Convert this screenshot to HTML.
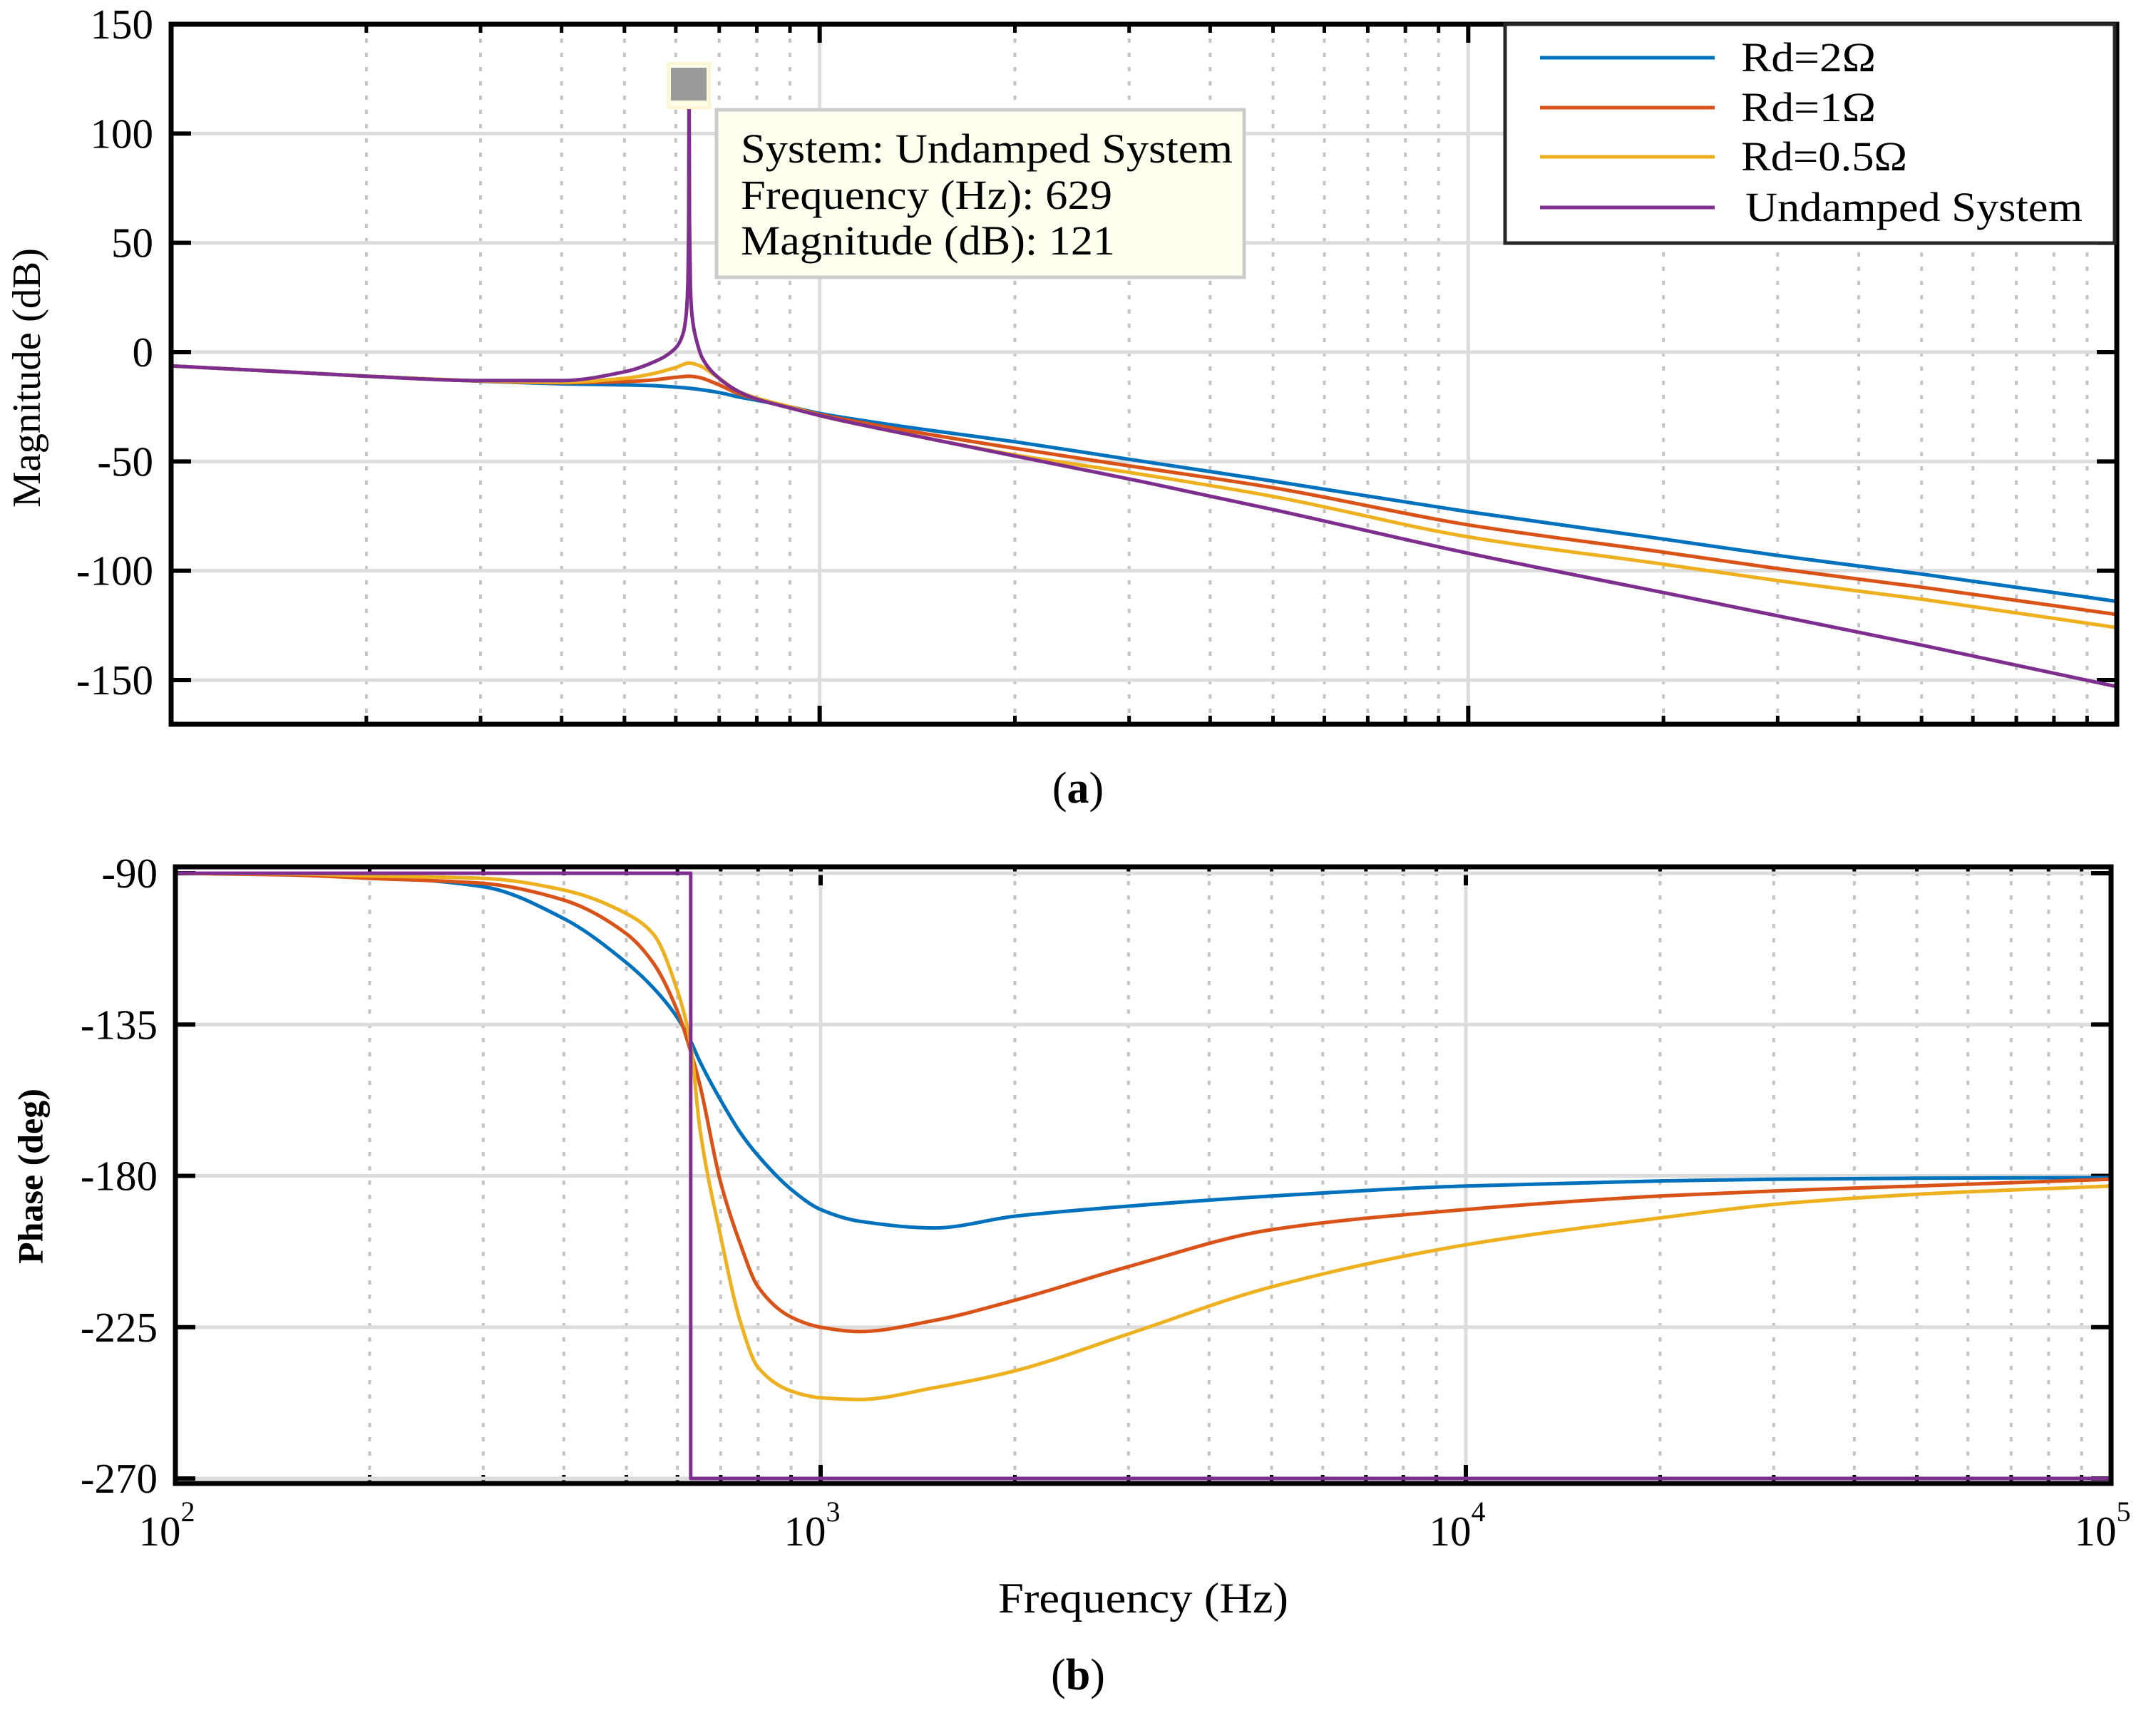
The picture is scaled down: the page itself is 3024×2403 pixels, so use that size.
<!DOCTYPE html>
<html><head><meta charset="utf-8"><style>
html,body{margin:0;padding:0;background:#fff;}
svg{display:block;font-family:"Liberation Serif",serif;}
</style></head><body>
<svg id="fig" width="3024" height="2403" viewBox="0 0 3024 2403" xmlns="http://www.w3.org/2000/svg">
<defs>
<clipPath id="clipA"><rect x="240" y="34" width="2729" height="982"/></clipPath>
<clipPath id="clipB"><rect x="246" y="1216" width="2715" height="865"/></clipPath>
</defs>
<g id="gA"></g>
<g id="gB"></g>
<text x="43" y="530" font-size="56" text-anchor="middle" dominant-baseline="middle" textLength="364" lengthAdjust="spacingAndGlyphs" transform="rotate(-90 43 530)">Magnitude (dB)</text>
<text x="48" y="1650" font-size="50" font-weight="bold" text-anchor="middle" dominant-baseline="middle" transform="rotate(-90 48 1650)">Phase (deg)</text>
<text x="1400" y="2262" font-size="60" textLength="407" lengthAdjust="spacingAndGlyphs">Frequency  (Hz)</text>
<text x="1512" y="1126" font-size="62" text-anchor="middle">(<tspan font-weight="bold">a</tspan>)</text>
<text x="1512" y="2370" font-size="62" text-anchor="middle">(<tspan font-weight="bold">b</tspan>)</text>
</svg>
<script>
const freqs=[100,150,200,300,400,500,550,600,629,650,700,750,800,900,1000,1150,1500,2000,3000,5000,10000,20000,30000,50000,100000];
const magBlue=[-6.3,-9,-11,-13.3,-14.5,-15,-15.3,-16,-16.5,-17,-18.5,-20.5,-22,-25,-28,-31,-36,-41,-49,-59,-73,-85.5,-93,-101.5,-114];
const magRed=[-6.3,-9,-11,-13.2,-14,-13.5,-12.8,-11.5,-11,-11.5,-15,-19,-21.5,-25,-28.5,-32,-38,-44,-52,-62,-79,-91.5,-99,-107.5,-120];
const magYellow=[-6.3,-9,-11,-13.1,-13.8,-12,-10,-7,-5,-6,-12,-18,-21,-25,-29,-33,-40,-47,-55,-66,-84.5,-97,-104.5,-113,-126];
const freqsUndamped=[100,150,200,300,400,500,550,600,615,622,626,628,629,630,632,636,645,660,700,750,800,900,1000,1500,2000,3000,5000,10000,20000,50000,100000];
const magUndamped=[-6.3,-9,-11,-13,-13,-9,-5,2,8,16,30,60,121,60,30,16,6,-3,-12,-18,-21.5,-25.5,-29,-40,-47.5,-58,-72,-92,-110,-134,-153];
const phBlue=[-90,-90.3,-91,-94,-103.5,-116.6,-124,-133,-140,-146,-157.5,-167,-174,-184,-190,-193.5,-195.5,-192,-189,-186,-183,-181.5,-181,-180.7,-180.5];
const phRed=[-90,-90.5,-91.5,-93,-98,-108,-116.6,-131,-143,-153,-182,-200,-213,-222,-225,-226.3,-223,-217,-207,-196,-190,-186,-184.5,-183,-181];
const phYellow=[-90,-90.2,-90.8,-91.5,-95,-102,-108,-125,-141,-166,-198,-223,-237,-244,-246,-246.5,-243,-238,-227,-213,-200.5,-192.5,-188.5,-185.5,-183];
const phFreqUndamped=[100,629,629,100000];
const phUndamped=[-90,-90,-270,-270];
const magTicks=[150,100,50,0,-50,-100,-150];
const phTicks=[-90,-135,-180,-225,-270];
const decades=[2,3,4,5];

const NS="http://www.w3.org/2000/svg";
function mk(tag,attrs,parent){const e=document.createElementNS(NS,tag);for(const k in attrs)e.setAttribute(k,attrs[k]);parent.appendChild(e);return e;}
const colors={blue:"#0072BD",red:"#D95319",yellow:"#EDB120",purple:"#7E2F8E"};

function drawAxes(g,L,R,T,B,xs,ys,ticks,labels){
  for(let d=2;d<5;d++){for(let m=2;m<=9;m++){const x=xs(m*Math.pow(10,d));
    const l=mk('line',{x1:x,x2:x,y1:T,y2:B,stroke:'#c4c4c4','stroke-width':4,'stroke-dasharray':'6 14'},g);
    
    const t1=mk('line',{x1:x,x2:x,y1:B,y2:B-12,stroke:'#000','stroke-width':5},g);
    
    const t2=mk('line',{x1:x,x2:x,y1:T,y2:T+12,stroke:'#000','stroke-width':5},g);
    }}
  decades.forEach(d=>{const x=xs(Math.pow(10,d));
    const l=mk('line',{x1:x,x2:x,y1:T,y2:B,stroke:'#dcdcdc','stroke-width':5},g);
    
    const t1=mk('line',{x1:x,x2:x,y1:B,y2:B-26,stroke:'#000','stroke-width':6},g);
    
    const t2=mk('line',{x1:x,x2:x,y1:T,y2:T+26,stroke:'#000','stroke-width':6},g);
    
    if(labels){const t=mk('text',{x:xs(Math.pow(10,d))-12,y:2168,'font-size':59,'text-anchor':'middle'},g);
      
      t.textContent='10';const s=mk('tspan',{dy:-34,'font-size':40},t);s.textContent=String(d);}
  });
  ticks.forEach(v=>{const y=ys(v);
    const l=mk('line',{x1:L,x2:R,y1:y,y2:y,stroke:'#dcdcdc','stroke-width':5},g);
    
    const t1=mk('line',{x1:L,x2:L+28,y1:y,y2:y,stroke:'#000','stroke-width':6},g);
    
    const t2=mk('line',{x1:R-28,x2:R,y1:y,y2:y,stroke:'#000','stroke-width':6},g);
    
    const t=mk('text',{x:L-25,y:y+20,'font-size':59,'text-anchor':'end'},g);
    
    t.textContent=String(v);
  });
}
// monotone cubic (Fritsch-Carlson) in pixel space
function monoPath(P){
  const n=P.length;if(n<3)return P.map((p,i)=>(i?'L':'M')+p[0].toFixed(1)+','+p[1].toFixed(1)).join(' ');
  const dx=[],dy=[],m=[];
  for(let i=0;i<n-1;i++){dx.push(P[i+1][0]-P[i][0]);dy.push(P[i+1][1]-P[i][1]);m.push(dx[i]===0?0:dy[i]/dx[i]);}
  const t=[m[0]];
  for(let i=1;i<n-1;i++){if(m[i-1]*m[i]<=0)t.push(0);else{const w1=2*dx[i]+dx[i-1],w2=dx[i]+2*dx[i-1];t.push((w1+w2)/(w1/m[i-1]+w2/m[i]));}}
  t.push(m[n-2]);
  let d='M'+P[0][0].toFixed(1)+','+P[0][1].toFixed(1);
  for(let i=0;i<n-1;i++){const h=dx[i]/3;
    d+=' C'+(P[i][0]+h).toFixed(1)+','+(P[i][1]+t[i]*h).toFixed(1)+' '+(P[i+1][0]-h).toFixed(1)+','+(P[i+1][1]-t[i+1]*h).toFixed(1)+' '+P[i+1][0].toFixed(1)+','+P[i+1][1].toFixed(1);}
  return d;
}
function series(g,fx,vy,xs,ys,color,clip,name,smooth){
  const P=fx.map((f,i)=>[xs(f),ys(vy[i])]);
  const d=smooth?monoPath(P):P.map((p,i)=>(i?'L':'M')+p[0].toFixed(1)+','+p[1].toFixed(1)).join(' ');
  const p=mk('path',{d:d,fill:'none',stroke:color,'stroke-width':5,'stroke-linejoin':'round','clip-path':'url(#'+clip+')'},g);
  
}
// ---- Magnitude plot
const gA=document.getElementById('gA');
const AL=240,AR=2969,AT=34,AB=1016;
const xA=f=>AL+(Math.log10(f)-2)*(AR-AL)/3;
const yA=v=>34+(150-v)*(954-34)/300;
drawAxes(gA,AL,AR,AT,AB,xA,yA,magTicks,false);
series(gA,freqs,magBlue,xA,yA,colors.blue,'clipA','magnitude-line-rd-2',true);
series(gA,freqs,magRed,xA,yA,colors.red,'clipA','magnitude-line-rd-1',true);
series(gA,freqs,magYellow,xA,yA,colors.yellow,'clipA','magnitude-line-rd-0-5',true);
series(gA,freqsUndamped,magUndamped,xA,yA,colors.purple,'clipA','magnitude-line-undamped',true);
const fA=mk('rect',{x:AL,y:AT,width:AR-AL,height:AB-AT,fill:'none',stroke:'#000','stroke-width':7},gA);

const mkr=mk('rect',{x:937,y:89,width:58,height:62,fill:'#fdfde8',stroke:'#fbf6d0','stroke-width':4},gA);

const mkr2=mk('rect',{x:941,y:95,width:50,height:46,fill:'#9a9a9a'},gA);

const tip=mk('g',{},gA);

const tb=mk('rect',{x:1005,y:154,width:740,height:235,fill:'#ffffee',stroke:'#cccccc','stroke-width':5},tip);

[["System: Undamped System",228,690],["Frequency (Hz): 629",293,521],["Magnitude (dB): 121",357,525]].forEach(r=>{
  const t=mk('text',{x:1039,y:r[1],'font-size':58,textLength:r[2],lengthAdjust:'spacingAndGlyphs'},tip);
  
  t.textContent=r[0];});
const lg=mk('g',{},gA);

const lb=mk('rect',{x:2111,y:34,width:855,height:307,fill:'#fff',stroke:'#262626','stroke-width':5},lg);

const legendLabels=["Rd=2Ω","Rd=1Ω","Rd=0.5Ω","Undamped System"];
const legendColors=[colors.blue,colors.red,colors.yellow,colors.purple];
const legendY=[81,151,220,291];
const legendW=[189,189,233,473];
legendLabels.forEach((s,i)=>{
  const l=mk('line',{x1:2160,x2:2405,y1:legendY[i],y2:legendY[i],stroke:legendColors[i],'stroke-width':5},lg);
  
  const t=mk('text',{x:i==3?2448:2442,y:legendY[i]+19,'font-size':58,textLength:legendW[i],lengthAdjust:'spacingAndGlyphs'},lg);
  
  t.textContent=s;});
// ---- Phase plot
const gB=document.getElementById('gB');
const BL=246,BR=2961,BT=1216,BB=2081;
const xB=f=>BL+(Math.log10(f)-2)*(BR-BL)/3;
const yB=v=>1225+(-90-v)*(2074-1225)/180;
drawAxes(gB,BL,BR,BT,BB,xB,yB,phTicks,true);
series(gB,freqs,phBlue,xB,yB,colors.blue,'clipB','phase-line-rd-2',true);
series(gB,freqs,phRed,xB,yB,colors.red,'clipB','phase-line-rd-1',true);
series(gB,freqs,phYellow,xB,yB,colors.yellow,'clipB','phase-line-rd-0-5',true);
series(gB,phFreqUndamped,phUndamped,xB,yB,colors.purple,'clipB','phase-line-undamped',false);
const fB=mk('rect',{x:BL,y:BT,width:BR-BL,height:BB-BT,fill:'none',stroke:'#000','stroke-width':7},gB);

</script>
</body></html>
